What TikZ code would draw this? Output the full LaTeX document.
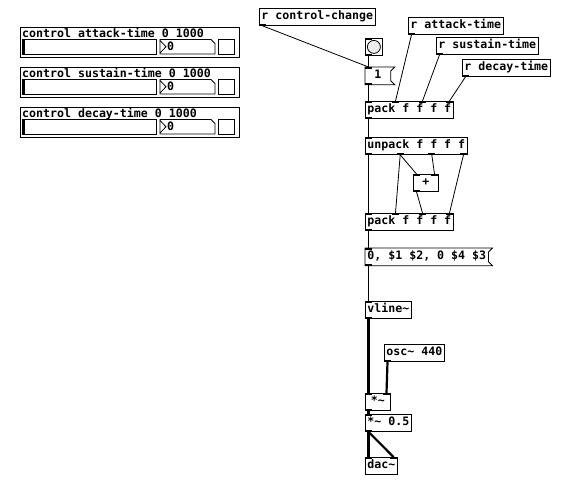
\documentclass[tikz,border=0pt]{standalone}
\usepackage{fontspec}
\newfontfamily\pdfont{DejaVu Sans Mono}
\usetikzlibrary{calc}

% inlet / outlet marks, #2 = centre offset from the left edge
\newcommand{\pdin}[2]{\fill ([xshift=#2pt-3.5pt]#1.north west) rectangle ++(7,2);}
\newcommand{\pdout}[2]{\fill ([xshift=#2pt-3.5pt]#1.south west) rectangle ++(7,-2);}
% message box outline with the flag on the right
\newcommand{\msgflag}[1]{\draw[ctl] (#1.north west) -- ([xshift=4pt]#1.north east) -- ([yshift=-4pt]#1.north east) -- ([yshift=4pt]#1.south east) -- ([xshift=4pt]#1.south east) -- (#1.south west) -- cycle;}
% graph-on-parent control box
\newcommand{\gopbox}[3]{
    \draw[ctl] (20,#2) rectangle (239,#2+30);
    \node[lbl] (#1) at (22,#2+11) {#3};
    \draw[ctl, fill=white] (22,#2+12.5) rectangle (156,#2+27);
    \draw[line width=3pt] (23.5,#2+12.5) -- (23.5,#2+27);
    \draw[ctl, fill=white] (160,#2+12.5) -- (211,#2+12.5) -- (215,#2+16.5) -- (215,#2+27) -- (160,#2+27) -- cycle;
    \draw[ctl] (160,#2+13.5) -- (166,#2+19.75) -- (160,#2+26);
    \node[lbl] (#1-num) at (167,#2+24) {0};
    \draw[ctl, fill=white] (218,#2+12.5) rectangle (234,#2+27);
}

\begin{document}
\begin{tikzpicture}[x=1pt, y=-1pt,
    ctl/.style={line width=0.8pt},
    sig/.style={line width=2.2pt},
    pdtext/.style={font=\pdfont\bfseries\fontsize{11.6}{13}\selectfont},
    lbl/.style={pdtext, anchor=base west, inner sep=0pt},
    obj/.style={pdtext, draw, ctl, fill=white, anchor=north west, inner xsep=2pt, inner ysep=0pt,
        minimum height=17, text height=9, text depth=3},
    msg/.style={obj, draw=none},
    bngbox/.style={draw, ctl, fill=white, anchor=north west, minimum size=17, inner sep=0pt}]
    \useasboundingbox (0,0) rectangle (568,486);

    \gopbox{attack}{27}{control attack-time 0 1000}
    \gopbox{sustain}{67}{control sustain-time 0 1000}
    \gopbox{decay}{107}{control decay-time 0 1000}

    \node[obj] (rcc) at (259,8) {r control-change};
    \node[obj] (rat) at (408,17) {r attack-time};
    \node[obj] (rsus) at (436,37) {r sustain-time};
    \node[obj] (rdec) at (462,59) {r decay-time};
    \node[bngbox] (bng) at (365,38) {};
    \draw[ctl, fill=gray!15] (bng.center) circle (6.5);
    \node[msg, minimum width=25] (one) at (365,67) {1};
    \msgflag{one}
    \node[obj] (pack) at (365,101) {pack f f f f};
    \node[obj] (unpack) at (365,137) {unpack f f f f};
    \node[obj, minimum width=25] (plus) at (413,174) {+};
    \node[obj] (pack2) at (365,213) {pack f f f f};
    \node[msg] (lst) at (365,248) {0, \$1 \$2, 0 \$4 \$3};
    \msgflag{lst}
    \node[obj] (vl) at (365,301) {vline\char`~};
    \node[obj] (osc) at (384,344) {osc\char`~{} 440};
    \node[obj, minimum width=25] (mul) at (365,393) {*\char`~};
    \node[obj] (half) at (365,414) {*\char`~{} 0.5};
    \node[obj] (dac) at (365,457) {dac\char`~};

    % inlets and outlets
    \pdout{rcc}{3.5} \pdout{rat}{3.5} \pdout{rsus}{3.5} \pdout{rdec}{3.5}
    \pdin{bng}{3.5} \pdout{bng}{3.5}
    \pdin{one}{3.5} \pdout{one}{3.5}
    \pdin{pack}{3.5} \pdin{pack}{30.5} \pdin{pack}{57.5} \pdin{pack}{84.5} \pdout{pack}{3.5}
    \pdin{unpack}{3.5} \pdout{unpack}{3.5} \pdout{unpack}{35.2} \pdout{unpack}{66.8} \pdout{unpack}{98.5}
    \pdin{plus}{3.5} \pdin{plus}{21.5} \pdout{plus}{3.5}
    \pdin{pack2}{3.5} \pdin{pack2}{30.5} \pdin{pack2}{57.5} \pdin{pack2}{84.5} \pdout{pack2}{3.5}
    \pdin{lst}{3.5} \pdout{lst}{3.5}
    \pdin{vl}{3.5} \pdout{vl}{3.5}
    \pdout{osc}{3.5}
    \pdin{mul}{3.5} \pdin{mul}{21.5} \pdout{mul}{3.5}
    \pdin{half}{3.5} \pdout{half}{3.5}
    \pdin{dac}{3.5} \pdin{dac}{28.5}

    % control connections
    \draw[ctl] ([xshift=3.5pt]rcc.south west) -- ([xshift=3.5pt]one.north west);
    \draw[ctl] ([xshift=3.5pt]bng.south west) -- ([xshift=3.5pt]one.north west);
    \draw[ctl] ([xshift=3.5pt]one.south west) -- ([xshift=3.5pt]pack.north west);
    \draw[ctl] ([xshift=3.5pt]rat.south west) -- ([xshift=30.5pt]pack.north west);
    \draw[ctl] ([xshift=3.5pt]rsus.south west) -- ([xshift=57.5pt]pack.north west);
    \draw[ctl] ([xshift=3.5pt]rdec.south west) -- ([xshift=84.5pt]pack.north west);
    \draw[ctl] ([xshift=3.5pt]pack.south west) -- ([xshift=3.5pt]unpack.north west);
    \draw[ctl] ([xshift=3.5pt]unpack.south west) -- ([xshift=3.5pt]pack2.north west);
    \draw[ctl] ([xshift=35.2pt]unpack.south west) -- ([xshift=30.5pt]pack2.north west);
    \draw[ctl] ([xshift=35.2pt]unpack.south west) -- ([xshift=3.5pt]plus.north west);
    \draw[ctl] ([xshift=66.8pt]unpack.south west) -- ([xshift=21.5pt]plus.north west);
    \draw[ctl] ([xshift=3.5pt]plus.south west) -- ([xshift=57.5pt]pack2.north west);
    \draw[ctl] ([xshift=98.5pt]unpack.south west) -- ([xshift=84.5pt]pack2.north west);
    \draw[ctl] ([xshift=3.5pt]pack2.south west) -- ([xshift=3.5pt]lst.north west);
    \draw[ctl] ([xshift=3.5pt]lst.south west) -- ([xshift=3.5pt]vl.north west);

    % signal connections
    \draw[sig] ([xshift=3.5pt]vl.south west) -- ([xshift=3.5pt]mul.north west);
    \draw[sig] ([xshift=3.5pt]osc.south west) -- ([xshift=21.5pt]mul.north west);
    \draw[sig] ([xshift=3.5pt]mul.south west) -- ([xshift=3.5pt]half.north west);
    \draw[sig] ([xshift=3.5pt]half.south west) -- ([xshift=3.5pt]dac.north west);
    \draw[sig] ([xshift=3.5pt]half.south west) -- ([xshift=28.5pt]dac.north west);
\end{tikzpicture}
\end{document}
